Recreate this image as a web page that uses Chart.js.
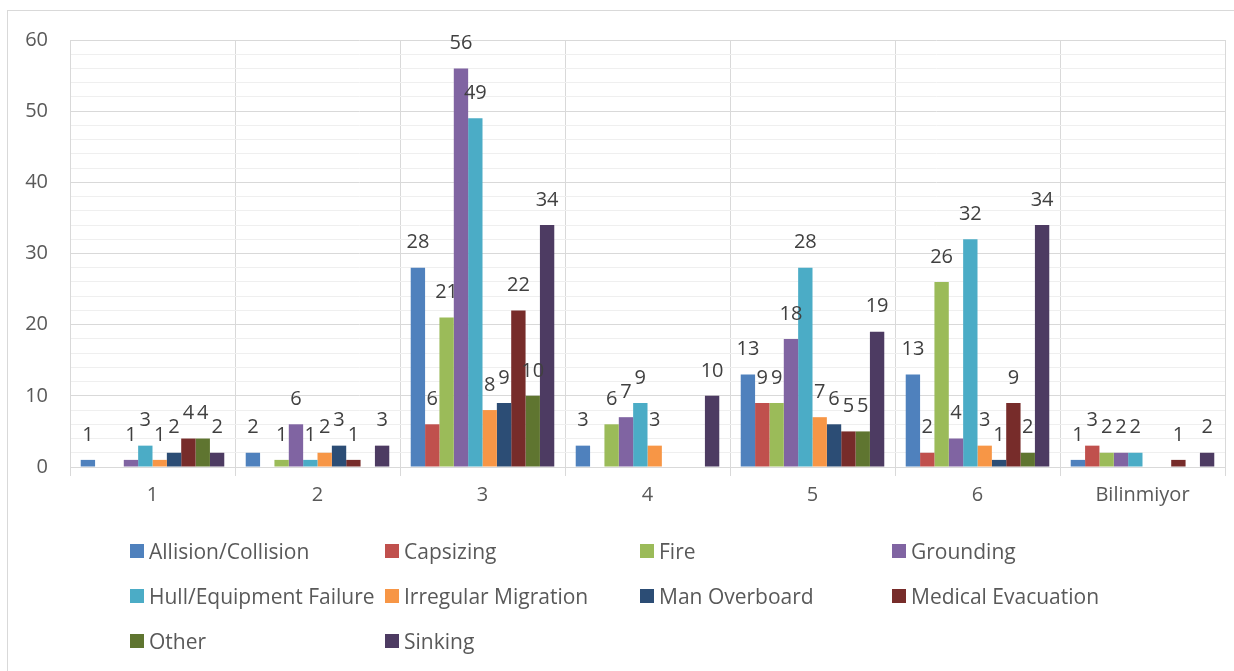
<!DOCTYPE html>
<html>
<head>
<meta charset="utf-8">
<script src="https://cdn.jsdelivr.net/npm/chart.js@4/dist/chart.umd.min.js"></script>
<style>
  html, body { margin: 0; padding: 0; background: #fff; }
  #wrap { position: relative; width: 1234px; height: 671px; overflow: hidden; }
  #frame { position: absolute; left: 7px; top: 10px; width: 1240px; height: 680px; border: 1px solid #d9d9d9; box-sizing: border-box; }
  canvas { position: absolute; left: 0; top: 0; }
  #legend { position: absolute; left: 0; top: 0; width: 1234px; height: 671px; pointer-events: none;
            font-family: "Open Sans", Lato, sans-serif; font-size: 21px; color: #595959; }
  .item { position: absolute; display: flex; align-items: center; white-space: nowrap; transform: translateY(-50%); }
  .sw { width: 14px; height: 14px; margin-right: 5px; }
</style>
</head>
<body>
<div id="wrap">
  <div id="frame"></div>
  <canvas id="c" width="1234" height="671"></canvas>
  <div id="legend"></div>
</div>
<script>
// Categories along the x axis
const categories = ['1', '2', '3', '4', '5', '6', 'Bilinmiyor'];

// Incident counts per category (null = no incidents, no bar/label)
const allisionCollision   = [1, 2, 28, 3, 13, 13, 1];
const capsizing           = [null, null, 6, null, 9, 2, 3];
const fire                = [null, 1, 21, 6, 9, 26, 2];
const grounding           = [1, 6, 56, 7, 18, 4, 2];
const hullEquipment       = [3, 1, 49, 9, 28, 32, 2];
const irregularMigration  = [1, 2, 8, 3, 7, 3, null];
const manOverboard        = [2, 3, 9, null, 6, 1, null];
const medicalEvacuation   = [4, 1, 22, null, 5, 9, 1];
const other               = [4, null, 10, null, 5, 2, null];
const sinking             = [2, 3, 34, 10, 19, 34, 2];

// Y axis tick labels shown at major steps
const yTickLabels = [0, 10, 20, 30, 40, 50, 60];

const seriesNames = ['Allision/Collision', 'Capsizing', 'Fire', 'Grounding', 'Hull/Equipment Failure',
                     'Irregular Migration', 'Man Overboard', 'Medical Evacuation', 'Other', 'Sinking'];
const seriesValues = [allisionCollision, capsizing, fire, grounding, hullEquipment,
                      irregularMigration, manOverboard, medicalEvacuation, other, sinking];
const seriesColors = ['#4F81BD', '#C0504D', '#9BBB59', '#8064A2', '#4BACC6',
                      '#F79646', '#2C4D75', '#772C2A', '#5F7530', '#4D3B62'];

const FONT = '"Open Sans", Lato, sans-serif';

// Value labels drawn above each bar
const valueLabels = {
  id: 'valueLabels',
  afterDatasetsDraw(chart) {
    const ctx = chart.ctx;
    ctx.save();
    ctx.font = '20px ' + FONT;
    ctx.fillStyle = '#404040';
    ctx.textAlign = 'center';
    ctx.textBaseline = 'middle';
    chart.data.datasets.forEach((ds, i) => {
      const meta = chart.getDatasetMeta(i);
      meta.data.forEach((bar, j) => {
        const v = ds.data[j];
        if (v === null || v === undefined) return;
        ctx.fillText(String(v), bar.x, bar.y - 25);
      });
    });
    ctx.restore();
  }
};

const chart = new Chart(document.getElementById('c'), {
  type: 'bar',
  data: {
    labels: categories,
    datasets: seriesNames.map((name, i) => ({
      label: name,
      data: seriesValues[i],
      backgroundColor: seriesColors[i],
      borderWidth: 0,
      categoryPercentage: 0.87,
      barPercentage: 1.0
    }))
  },
  options: {
    responsive: false,
    animation: false,
    layout: { padding: { top: 40, right: 9, left: 0, bottom: 0 } },
    plugins: { legend: { display: false }, tooltip: { enabled: false } },
    scales: {
      x: {
        offset: true,
        grid: { offset: true, color: '#d9d9d9', lineWidth: 1, drawTicks: true, tickLength: 9 },
        border: { color: '#d9d9d9' },
        ticks: { color: '#595959', font: { family: FONT, size: 20 }, padding: 7 },
        afterFit(scale) { scale.height = 204; }
      },
      y: {
        min: 0, max: 60,
        grid: {
          drawTicks: false,
          color: (ctx) => (ctx.tick && yTickLabels.includes(ctx.tick.value)) ? '#d9d9d9' : '#efefef'
        },
        border: { color: '#d9d9d9' },
        ticks: {
          stepSize: 2,
          autoSkip: false,
          padding: 22,
          color: '#595959',
          font: { family: FONT, size: 20 },
          callback: (v) => yTickLabels.includes(v) ? String(v) : ''
        },
        afterFit(scale) { scale.width = 70; }
      }
    }
  },
  plugins: [valueLabels]
});

// Legend laid out in a four-column grid below the plot
const legendEl = document.getElementById('legend');
const colX = [130, 385, 640, 892];
const rowY = [551, 596, 641];
chart.data.datasets.forEach((ds, i) => {
  const item = document.createElement('div');
  item.className = 'item';
  item.style.left = colX[i % 4] + 'px';
  item.style.top = rowY[Math.floor(i / 4)] + 'px';
  const sw = document.createElement('span');
  sw.className = 'sw';
  sw.style.background = ds.backgroundColor;
  const txt = document.createElement('span');
  txt.textContent = ds.label;
  item.appendChild(sw);
  item.appendChild(txt);
  legendEl.appendChild(item);
});
</script>
</body>
</html>
